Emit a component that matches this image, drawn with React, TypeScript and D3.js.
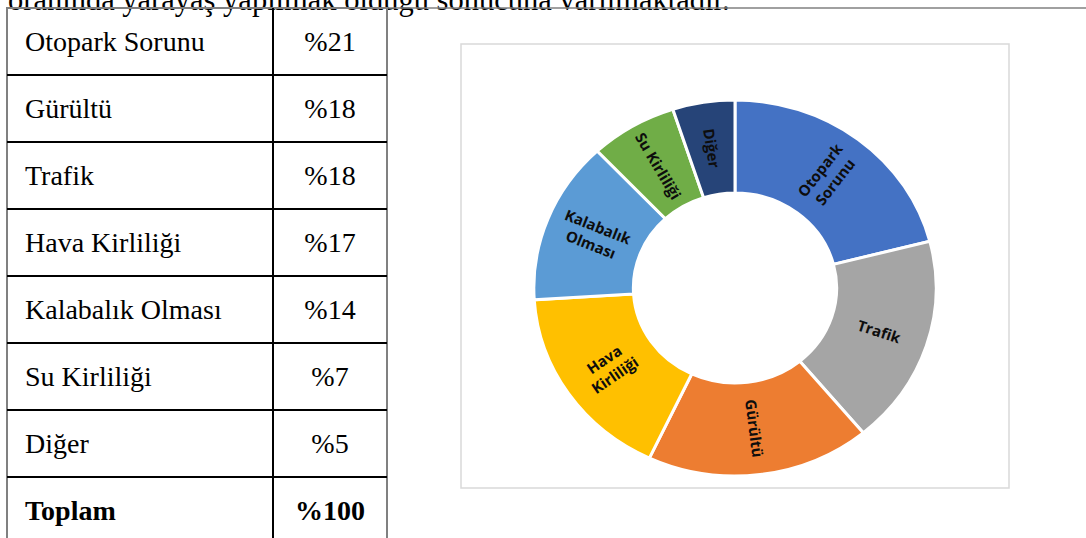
import React, { useEffect, useRef } from 'react';
import * as d3 from 'd3';

// table rows (left side) and donut slices (clockwise from 12 o'clock)
const tableLabels = ['Otopark Sorunu', 'Gürültü', 'Trafik', 'Hava Kirliliği', 'Kalabalık Olması', 'Su Kirliliği', 'Diğer'];
const tableValues = [21, 18, 18, 17, 14, 7, 5];

const sliceNames = ['Otopark Sorunu', 'Trafik', 'Gürültü', 'Hava Kirliliği', 'Kalabalık Olması', 'Su Kirliliği', 'Diğer'];
const sliceValues = [21, 18, 18, 17, 14, 7, 5];
const sliceLines = [['Otopark', 'Sorunu'], ['Trafik'], ['Gürültü'], ['Hava', 'Kirliliği'], ['Kalabalık', 'Olması'], ['Su Kirliliği'], ['Diğer']];
const sliceColors = ['#4472C4', '#A5A5A5', '#ED7D31', '#FFC000', '#5B9BD5', '#70AD47', '#264478'];

const introText = 'oranında yarayaş yapılmak olduğu sonucuna varılmaktadır.';

export default function App() {
  const svgRef = useRef<SVGSVGElement>(null);

  useEffect(() => {
    if (!svgRef.current) return;
    const svg = d3.select(svgRef.current);
    svg.selectAll('*').remove();

    const serif = '"Liberation Serif", "Times New Roman", serif';

    // sentence cut off at the top of the page
    svg.append('text')
      .attr('x', 8)
      .attr('y', 10)
      .style('font-family', serif)
      .style('font-size', '30.5px')
      .attr('fill', '#000')
      .text(introText);

    // ---- Table ----
    const tLeft = 7, tMid = 273, tRight = 387, tTop = 8, rowH = 67;
    const rows = tableLabels.map((l, i) => ({ label: l, value: `%${tableValues[i]}`, bold: false }));
    rows.push({ label: 'Toplam', value: `%${d3.sum(tableValues)}`, bold: true });

    const y = d3.scaleLinear().domain([0, rows.length]).range([tTop, tTop + rows.length * rowH]);
    const table = svg.append('g');

    // outer frame line running across the page top
    table.append('line')
      .attr('x1', tLeft).attr('x2', 1086)
      .attr('y1', tTop).attr('y2', tTop)
      .attr('stroke', '#808080').attr('stroke-width', 1.5);

    table.append('rect')
      .attr('x', tLeft).attr('y', tTop)
      .attr('width', tRight - tLeft).attr('height', y(rows.length) - tTop)
      .attr('fill', 'none').attr('stroke', '#808080').attr('stroke-width', 2);

    table.selectAll('.hline')
      .data(d3.range(1, rows.length))
      .enter().append('line')
      .attr('x1', tLeft).attr('x2', tRight)
      .attr('y1', d => y(d)).attr('y2', d => y(d))
      .attr('stroke', '#000').attr('stroke-width', 2);

    table.append('line')
      .attr('x1', tMid).attr('x2', tMid)
      .attr('y1', tTop).attr('y2', y(rows.length))
      .attr('stroke', '#000').attr('stroke-width', 2);

    const rowG = table.selectAll('.row')
      .data(rows)
      .enter().append('g')
      .attr('transform', (_d, i) => `translate(0,${y(i) + rowH / 2})`);

    rowG.append('text')
      .attr('x', 25).attr('dy', '0.35em')
      .style('font-family', serif).style('font-size', '28px')
      .style('font-weight', d => (d.bold ? 'bold' : 'normal'))
      .text(d => d.label);

    rowG.append('text')
      .attr('x', (tMid + tRight) / 2).attr('dy', '0.35em')
      .attr('text-anchor', 'middle')
      .style('font-family', serif).style('font-size', '28px')
      .style('font-weight', d => (d.bold ? 'bold' : 'normal'))
      .text(d => d.value);

    // ---- Chart box ----
    svg.append('rect')
      .attr('x', 461).attr('y', 44).attr('width', 548).attr('height', 444)
      .attr('fill', '#fff').attr('stroke', '#d9d9d9').attr('stroke-width', 1.5);

    const cx = 735, cy = 288, rOuter = 188, rInner = 95, sx = 1.07;
    const pie = d3.pie<number>().sort(null).value(d => d)(sliceValues);
    const arc = d3.arc<d3.PieArcDatum<number>>().innerRadius(rInner).outerRadius(rOuter);

    const donut = svg.append('g').attr('transform', `translate(${cx},${cy}) scale(${sx},1)`);
    donut.selectAll('path')
      .data(pie)
      .enter().append('path')
      .attr('d', arc)
      .attr('fill', (_d, i) => sliceColors[i])
      .attr('stroke', '#fff')
      .attr('stroke-width', 3)
      .attr('vector-effect', 'non-scaling-stroke')
      .append('title')
      .text((_d, i) => `${sliceNames[i]}: %${sliceValues[i]}`);

    const labels = svg.append('g');
    pie.forEach((p, i) => {
      const [px, py] = arc.centroid(p);
      const mid = ((p.startAngle + p.endAngle) / 2) * 180 / Math.PI;
      let rot = mid - 90;
      if (rot > 90) rot -= 180;
      const lines = sliceLines[i];
      const t = labels.append('text')
        .attr('transform', `translate(${cx + px * sx},${cy + py}) rotate(${rot})`)
        .attr('text-anchor', 'middle')
        .style('font-family', '"Open Sans", "Noto Sans", sans-serif')
        .style('font-size', '15px')
        .style('font-weight', 'bold')
        .attr('fill', '#0d0d0d');
      lines.forEach((ln, j) => {
        t.append('tspan')
          .attr('x', 0)
          .attr('y', (j - (lines.length - 1) / 2) * 19)
          .attr('dy', '0.35em')
          .text(ln);
      });
    });
  }, []);

  return (
    <svg
      ref={svgRef}
      width={1086}
      height={538}
      style={{ position: 'absolute', left: 0, top: 0, background: '#fff' }}
    />
  );
}
